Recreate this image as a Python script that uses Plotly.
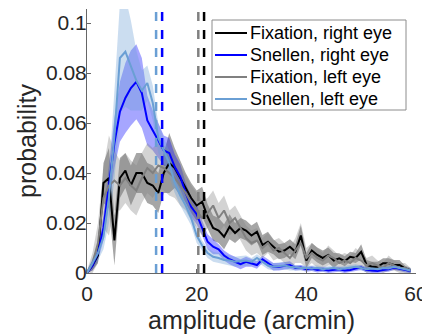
import plotly.graph_objects as go

amplitude = list(range(60))

fix_right = [0, 0.003, 0.007, 0.036, 0.038, 0.013, 0.038, 0.041, 0.035, 0.040,
             0.040, 0.036, 0.035, 0.032, 0.040, 0.044, 0.042, 0.038, 0.034, 0.030,
             0.027, 0.0285, 0.0225, 0.018, 0.017, 0.0145, 0.0185, 0.016, 0.018, 0.017,
             0.015, 0.0165, 0.0112, 0.0125, 0.0105, 0.0085, 0.009, 0.0105, 0.0085, 0.015,
             0.005, 0.009, 0.0072, 0.006, 0.0072, 0.005, 0.0059, 0.0047, 0.0065, 0.006,
             0.0085, 0.0032, 0.0025, 0.0025, 0.0039, 0.0039, 0.0032, 0.0032, 0.0019, 0.001]
fix_right_sem = [0.001, 0.002, 0.003, 0.008, 0.012, 0.010, 0.008, 0.007, 0.008, 0.008,
                 0.008, 0.008, 0.008, 0.008, 0.008, 0.012, 0.008, 0.007, 0.006, 0.006,
                 0.006, 0.006, 0.005, 0.005, 0.005, 0.005, 0.005, 0.004, 0.004, 0.004,
                 0.004, 0.004, 0.004, 0.004, 0.003, 0.003, 0.003, 0.003, 0.003, 0.004,
                 0.003, 0.003, 0.003, 0.003, 0.003, 0.003, 0.002, 0.002, 0.002, 0.002,
                 0.003, 0.002, 0.002, 0.002, 0.002, 0.002, 0.002, 0.002, 0.001, 0.001]

fix_left = [0, 0.004, 0.012, 0.030, 0.035, 0.037, 0.035, 0.038, 0.035, 0.033,
            0.038, 0.042, 0.040, 0.043, 0.042, 0.040, 0.038, 0.035, 0.032, 0.028,
            0.025, 0.022, 0.024, 0.027, 0.022, 0.025, 0.020, 0.022, 0.018, 0.014,
            0.012, 0.013, 0.010, 0.012, 0.009, 0.010, 0.008, 0.006, 0.009, 0.012,
            0.006, 0.008, 0.006, 0.005, 0.007, 0.006, 0.004, 0.005, 0.004, 0.006,
            0.005, 0.003, 0.004, 0.003, 0.002, 0.004, 0.003, 0.002, 0.002, 0.001]
fix_left_sem = [0.001, 0.004, 0.008, 0.012, 0.020, 0.012, 0.010, 0.010, 0.010, 0.010,
                0.010, 0.010, 0.010, 0.009, 0.009, 0.009, 0.008, 0.008, 0.007, 0.007,
                0.007, 0.007, 0.006, 0.006, 0.006, 0.006, 0.005, 0.005, 0.005, 0.005,
                0.005, 0.005, 0.004, 0.004, 0.004, 0.004, 0.004, 0.004, 0.005, 0.008,
                0.004, 0.004, 0.004, 0.003, 0.004, 0.003, 0.003, 0.003, 0.003, 0.004,
                0.003, 0.003, 0.003, 0.002, 0.002, 0.003, 0.002, 0.002, 0.002, 0.001]

snel_right = [0, 0.003, 0.008, 0.018, 0.035, 0.052, 0.0645, 0.070, 0.074, 0.0765,
              0.072, 0.061, 0.057, 0.053, 0.049, 0.048, 0.0425, 0.0385, 0.032, 0.0265,
              0.0235, 0.018, 0.0125, 0.0105, 0.0095, 0.007, 0.0055, 0.0045, 0.0035, 0.0045,
              0.004, 0.0032, 0.0055, 0.004, 0.0025, 0.0025, 0.0028, 0.0032, 0.002, 0.0022,
              0.0015, 0.0018, 0.0012, 0.0015, 0.001, 0.0012, 0.0015, 0.001, 0.0012, 0.0018,
              0.0022, 0.0012, 0.001, 0.0008, 0.0012, 0.0015, 0.0022, 0.0018, 0.0012, 0.0008]
snel_right_sem = [0.001, 0.002, 0.003, 0.005, 0.008, 0.010, 0.012, 0.014, 0.015, 0.015,
                  0.014, 0.010, 0.008, 0.007, 0.006, 0.006, 0.005, 0.005, 0.004, 0.004,
                  0.004, 0.003, 0.003, 0.003, 0.002, 0.002, 0.002, 0.002, 0.002, 0.002,
                  0.0015, 0.0015, 0.0015, 0.0015, 0.0015, 0.0015, 0.0015, 0.0015, 0.001, 0.001,
                  0.001, 0.001, 0.001, 0.001, 0.001, 0.001, 0.001, 0.001, 0.001, 0.001,
                  0.001, 0.001, 0.001, 0.001, 0.001, 0.001, 0.001, 0.001, 0.001, 0.001]

snel_left = [0, 0.004, 0.008, 0.0145, 0.030, 0.055, 0.086, 0.0885, 0.083, 0.077,
             0.073, 0.076, 0.068, 0.054, 0.049, 0.044, 0.036, 0.031, 0.027, 0.022,
             0.015, 0.011, 0.008, 0.0065, 0.006, 0.0052, 0.005, 0.0045, 0.0048, 0.005,
             0.0045, 0.006, 0.0045, 0.003, 0.0025, 0.0028, 0.003, 0.0025, 0.0022, 0.002,
             0.002, 0.0018, 0.002, 0.0015, 0.0018, 0.002, 0.0015, 0.0018, 0.002, 0.0025,
             0.002, 0.0015, 0.0018, 0.0015, 0.002, 0.0018, 0.0025, 0.002, 0.0015, 0.001]
snel_left_sem = [0.001, 0.002, 0.003, 0.005, 0.010, 0.018, 0.022, 0.022, 0.018, 0.012,
                 0.008, 0.007, 0.007, 0.006, 0.005, 0.005, 0.004, 0.004, 0.004, 0.003,
                 0.003, 0.002, 0.002, 0.002, 0.002, 0.002, 0.002, 0.002, 0.002, 0.002,
                 0.0015, 0.0015, 0.0015, 0.0015, 0.0015, 0.0015, 0.0015, 0.0015, 0.001, 0.001,
                 0.001, 0.001, 0.001, 0.001, 0.001, 0.001, 0.001, 0.001, 0.001, 0.001,
                 0.001, 0.001, 0.001, 0.001, 0.001, 0.001, 0.001, 0.001, 0.001, 0.001]

series_names = ["Fixation, right eye", "Snellen, right eye", "Fixation, left eye", "Snellen, left eye"]
medians = [21.35, 13.7, 20.3, 12.6]

x_ticks = [0, 20, 40, 60]
y_ticks = [0, 0.02, 0.04, 0.06, 0.08, 0.1]
y_tick_labels = ["0", "0.02", "0.04", "0.06", "0.08", "0.1"]

means = [fix_right, snel_right, fix_left, snel_left]
sems = [fix_right_sem, snel_right_sem, fix_left_sem, snel_left_sem]
line_colors = ["#000000", "#0000ff", "#808080", "#6a9fd4"]
band_colors = ["rgba(0,0,0,0.35)", "rgba(0,0,255,0.35)", "rgba(128,128,128,0.35)", "rgba(106,159,212,0.35)"]

# page has an 8px body margin; plot area in page px: x 87..416, y 9..273
W, H = 422, 328
ML, MR, MT, MB = 79, 14, 1, 63
PW, PH = W - ML - MR, H - MT - MB


def px_to_paper(px, py):
    return (px - 8 - ML) / PW, (H - MB - (py - 8)) / PH


fig = go.Figure()

for m, s, bc in zip(means, sems, band_colors):
    upper = [a + b for a, b in zip(m, s)]
    lower = [max(a - b, 0) for a, b in zip(m, s)]
    fig.add_trace(go.Scatter(
        x=amplitude + amplitude[::-1], y=upper + lower[::-1],
        fill="toself", fillcolor=bc, line=dict(width=0), mode="lines",
        hoverinfo="skip", showlegend=False))

for m, name, lc in zip(means, series_names, line_colors):
    fig.add_trace(go.Scatter(x=amplitude, y=m, mode="lines", name=name,
                             line=dict(color=lc, width=2), showlegend=False))

for med, lc in zip(medians, line_colors):
    fig.add_shape(type="line", x0=med, x1=med, xref="x", yref="paper", y0=0, y1=1,
                  line=dict(color=lc, width=2.5, dash="dash"))

# legend box (drawn manually to match the compact row spacing)
bx0, by0 = px_to_paper(212, 20)
bx1, by1 = px_to_paper(406, 110)
fig.add_shape(type="rect", xref="paper", yref="paper", x0=bx0, x1=bx1, y0=by1, y1=by0,
              line=dict(color="#8c8c8c", width=1), fillcolor="white", layer="above")
row_y = [33, 55, 77, 99]
for name, lc, ry in zip(series_names, line_colors, row_y):
    lx0, ly = px_to_paper(215, ry)
    lx1, _ = px_to_paper(247, ry)
    fig.add_shape(type="line", xref="paper", yref="paper", x0=lx0, x1=lx1, y0=ly, y1=ly,
                  line=dict(color=lc, width=2), layer="above")
    tx, _ = px_to_paper(248, ry)
    fig.add_annotation(text=name, xref="paper", yref="paper", x=tx, y=ly,
                       xanchor="left", yanchor="middle", showarrow=False,
                       font=dict(size=18, color="#000000"))

font_family = "Liberation Sans, Arial, sans-serif"
fig.update_layout(
    width=W, height=H,
    margin=dict(l=ML, r=MR, t=MT, b=MB, autoexpand=False),
    paper_bgcolor="white", plot_bgcolor="white",
    font=dict(family=font_family, color="#262626", size=21),
    showlegend=False,
    xaxis=dict(range=[0, 60], tickvals=x_ticks, ticks="inside", ticklen=4,
               showline=True, linecolor="#666666", linewidth=1, showgrid=False,
               zeroline=False, tickcolor="#666666", automargin=False,
               ticklabelstandoff=2,
               title=dict(text="amplitude (arcmin)", font=dict(size=25), standoff=7),
               tickfont=dict(size=21)),
    yaxis=dict(range=[0, 0.1056], tickvals=y_ticks, ticktext=y_tick_labels,
               ticks="inside", ticklen=4, automargin=False,
               ticklabelstandoff=-5,
               showline=True, linecolor="#666666", linewidth=1, showgrid=False,
               zeroline=False, tickcolor="#666666",
               title=dict(text="probability", font=dict(size=25), standoff=2),
               tickfont=dict(size=21)),
)

fig.write_html("out.html")
